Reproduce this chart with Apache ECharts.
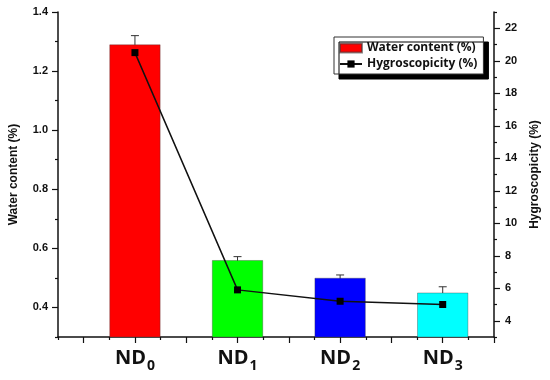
<!DOCTYPE html>
<html><head><meta charset="utf-8">
<script src="https://cdn.jsdelivr.net/npm/echarts@6/dist/echarts.min.js"></script>
<style>html,body{margin:0;padding:0;background:#fff}#c{width:550px;height:380px}</style>
</head><body><div id="c"></div>
<script>
// ---- data ----
const categoryBase = ['ND', 'ND', 'ND', 'ND'];
const categorySub = ['0', '1', '2', '3'];
const xPositions = [1, 2, 3, 4];
const waterContent = [1.29, 0.56, 0.50, 0.45];
const waterError = [0.03, 0.012, 0.01, 0.02];
const hygroscopicity = [20.5, 5.9, 5.2, 5.0];
const barColors = ['#ff0000', '#00ff00', '#0000ff', '#00ffff'];
const leftTicks = [0.4, 0.6, 0.8, 1.0, 1.2, 1.4];
const leftMinorTicks = [0.3, 0.5, 0.7, 0.9, 1.1, 1.3];
const rightTicks = [4, 6, 8, 10, 12, 14, 16, 18, 20, 22];
const rightMinorTicks = [3, 5, 7, 9, 11, 13, 15, 17, 19, 21, 23];
const xMajorTicks = [0.5, 1, 1.5, 2, 2.5, 3, 3.5, 4, 4.5];
const xMinorTicks = [0.25, 0.75, 1.25, 1.75, 2.25, 2.75, 3.25, 3.75, 4.25];

const chart = echarts.init(document.getElementById('c'), null, {renderer: 'canvas'});
const tickFont = {fontFamily: 'Liberation Sans', fontWeight: 'bold', fontSize: 11, color: '#111'};
const axisLine = {show: true, lineStyle: {color: '#111', width: 1.5}};

const barData = xPositions.map((x, i) => ({value: [x, waterContent[i]], itemStyle: {color: barColors[i]}}));
const errData = xPositions.map((x, i) => [x, waterContent[i] - waterError[i], waterContent[i] + waterError[i]]);
const lineData = xPositions.map((x, i) => [x, hygroscopicity[i]]);

chart.setOption({
  animation: false,
  backgroundColor: '#fff',
  grid: {left: 58, right: 56, top: 12, bottom: 43, containLabel: false},
  legend: {
    orient: 'vertical', left: 334, top: 37,
    backgroundColor: '#fff', borderColor: '#333', borderWidth: 1,
    padding: [5, 6, 4, 5], itemGap: 4, itemWidth: 22, itemHeight: 9,
    shadowColor: '#000', shadowOffsetX: 5, shadowOffsetY: 5, shadowBlur: 0.01,
    textStyle: {fontFamily: 'Open Sans', fontWeight: 'bold', fontSize: 12, color: '#111'},
    data: [
      {name: 'Water content (%)', icon: 'rect', itemStyle: {color: '#ff0000'}},
      {name: 'Hygroscopicity (%)'}
    ]
  },
  xAxis: [{
    type: 'value', min: 0.25, max: 4.5, position: 'bottom',
    axisLine: axisLine, splitLine: {show: false},
    axisTick: {show: true, length: 6, customValues: xMajorTicks, lineStyle: {color: '#111', width: 1.2}},
    axisLabel: {
      customValues: xPositions, margin: 11,
      formatter: function (v) {
        const i = xPositions.indexOf(v);
        return i < 0 ? '' : '{m|' + categoryBase[i] + '}{s|' + categorySub[i] + '}';
      },
      rich: {
        m: {fontFamily: 'Open Sans', fontWeight: 'bold', fontSize: 20, color: '#111', verticalAlign: 'top'},
        s: {fontFamily: 'Open Sans', fontWeight: 'bold', fontSize: 14, color: '#111', padding: [11, 0, 0, 1], verticalAlign: 'top'}
      }
    }
  }, {
    type: 'value', min: 0.25, max: 4.5, position: 'bottom', gridIndex: 0,
    axisLine: {show: false}, splitLine: {show: false}, axisLabel: {show: false},
    axisTick: {show: true, length: 3, customValues: xMinorTicks, lineStyle: {color: '#111', width: 1.2}}
  }],
  yAxis: [{
    type: 'value', min: 0.3, max: 1.4, position: 'left',
    name: 'Water content (%)', nameLocation: 'middle', nameGap: 38,
    nameTextStyle: {fontFamily: 'Liberation Sans', fontWeight: 'bold', fontSize: 12, color: '#111'},
    axisLine: axisLine, splitLine: {show: false},
    axisTick: {show: true, length: 6, customValues: leftTicks, lineStyle: {color: '#111', width: 1.2}},
    axisLabel: Object.assign({customValues: leftTicks, margin: 10, formatter: v => v.toFixed(1)}, tickFont)
  }, {
    type: 'value', min: 3, max: 23, position: 'right',
    name: 'Hygroscopicity (%)', nameLocation: 'middle', nameGap: 35, nameRotate: 90,
    nameTextStyle: {fontFamily: 'Liberation Sans', fontWeight: 'bold', fontSize: 12, color: '#111'},
    axisLine: axisLine, splitLine: {show: false},
    axisTick: {show: true, length: 6, customValues: rightTicks, lineStyle: {color: '#111', width: 1.2}},
    axisLabel: Object.assign({customValues: rightTicks, margin: 11, formatter: v => String(v)}, tickFont)
  }, {
    type: 'value', min: 0.3, max: 1.4, position: 'left',
    axisLine: {show: false}, splitLine: {show: false}, axisLabel: {show: false},
    axisTick: {show: true, length: 3, customValues: leftMinorTicks, lineStyle: {color: '#111', width: 1.2}}
  }, {
    type: 'value', min: 3, max: 23, position: 'right',
    axisLine: {show: false}, splitLine: {show: false}, axisLabel: {show: false},
    axisTick: {show: true, length: 3, customValues: rightMinorTicks, lineStyle: {color: '#111', width: 1.2}}
  }],
  series: [{
    type: 'custom', name: 'err', xAxisIndex: 0, yAxisIndex: 0, z: 1, silent: true,
    renderItem: function (params, api) {
      const x = api.value(0);
      const lo = api.coord([x, api.value(1)]);
      const hi = api.coord([x, api.value(2)]);
      const hw = 4;
      const st = {stroke: '#333', lineWidth: 1};
      return {type: 'group', children: [
        {type: 'line', shape: {x1: lo[0], y1: lo[1], x2: hi[0], y2: hi[1]}, style: st},
        {type: 'line', shape: {x1: hi[0] - hw, y1: hi[1], x2: hi[0] + hw, y2: hi[1]}, style: st},
        {type: 'line', shape: {x1: lo[0] - hw, y1: lo[1], x2: lo[0] + hw, y2: lo[1]}, style: st}
      ]};
    },
    data: errData
  }, {
    type: 'bar', name: 'Water content (%)', xAxisIndex: 0, yAxisIndex: 0, z: 2,
    barWidth: 51, data: barData,
    itemStyle: {borderColor: 'rgba(60,60,60,0.6)', borderWidth: 0.6}
  }, {
    type: 'line', name: 'Hygroscopicity (%)', xAxisIndex: 0, yAxisIndex: 1, z: 3,
    symbol: 'rect', symbolSize: 7,
    lineStyle: {color: '#111', width: 1.5}, itemStyle: {color: '#000'},
    data: lineData
  }]
});
</script></body></html>
